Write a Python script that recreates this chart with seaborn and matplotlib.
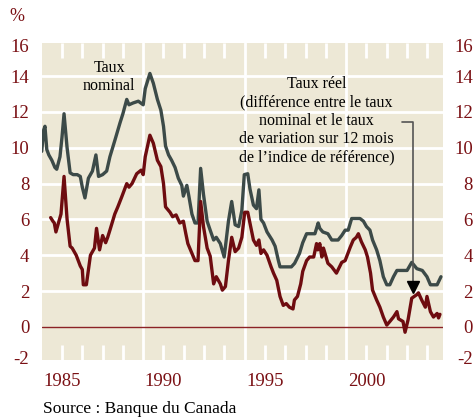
import matplotlib
matplotlib.use('Agg')
import matplotlib.pyplot as plt
import seaborn as sns
import numpy as np
import pandas as pd

# Nominal rate
nominal_years = [1984.00, 1984.10, 1984.16, 1984.25, 1984.35, 1984.50, 1984.65, 1984.74, 1984.90,
                 1985.00, 1985.10, 1985.25, 1985.40, 1985.55, 1985.75, 1985.90, 1986.00, 1986.13,
                 1986.30, 1986.50, 1986.67, 1986.80, 1987.00, 1987.20, 1987.36, 1987.60, 1987.86,
                 1988.00, 1988.19, 1988.30, 1988.50, 1988.76, 1989.00, 1989.10, 1989.33, 1989.50,
                 1989.70, 1989.87, 1990.00, 1990.10, 1990.25, 1990.40, 1990.57, 1990.73, 1990.90,
                 1990.98, 1991.15, 1991.25, 1991.40, 1991.55, 1991.70, 1991.83, 1991.97, 1992.15,
                 1992.30, 1992.47, 1992.60, 1992.80, 1992.99, 1993.20, 1993.36, 1993.53, 1993.70,
                 1993.86, 1993.98, 1994.15, 1994.26, 1994.43, 1994.58, 1994.70, 1994.80, 1994.93,
                 1995.10, 1995.35, 1995.50, 1995.66, 1995.74, 1996.30, 1996.46, 1996.70, 1996.86,
                 1997.05, 1997.46, 1997.62, 1997.70, 1997.85, 1998.10, 1998.29, 1998.60, 1998.78,
                 1998.95, 1999.10, 1999.27, 1999.68, 1999.85, 2000.00, 2000.17, 2000.30, 2000.50,
                 2000.66, 2000.83, 2001.00, 2001.15, 2001.33, 2001.50, 2002.00, 2002.23, 2002.48,
                 2002.75, 2002.98, 2003.15, 2003.48, 2003.67]
nominal_rate = [9.8, 11.0, 11.2, 9.9, 9.6, 9.3, 8.9, 8.8, 9.5,
                10.6, 11.9, 10.0, 8.6, 8.5, 8.5, 8.4, 7.8, 7.2,
                8.3, 8.7, 9.6, 8.4, 8.5, 8.7, 9.5, 10.4, 11.4,
                11.9, 12.7, 12.4, 12.5, 12.6, 12.4, 13.3, 14.15, 13.6,
                12.7, 12.1, 11.2, 10.1, 9.6, 9.3, 8.9, 8.3, 7.9,
                7.3, 7.9, 7.3, 6.3, 5.8, 5.8, 8.85, 7.4, 5.9,
                5.4, 4.85, 5.0, 4.65, 3.9, 5.9, 7.0, 5.7, 5.6,
                6.5, 8.5, 8.55, 7.7, 6.8, 6.6, 7.65, 6.0, 5.8,
                5.3, 4.85, 4.5, 3.7, 3.35, 3.35, 3.55, 4.1, 4.7,
                5.2, 5.2, 5.8, 5.5, 5.3, 5.2, 4.85, 4.85, 5.1,
                5.4, 5.4, 6.05, 6.05, 5.9, 5.6, 5.4, 4.85, 4.3,
                3.7, 2.8, 2.35, 2.35, 2.8, 3.15, 3.15, 3.6, 3.25,
                3.15, 2.8, 2.35, 2.35, 2.8]

real_years = [1984.44, 1984.55, 1984.62, 1984.70, 1984.85, 1984.95, 1985.10, 1985.25, 1985.40,
              1985.50, 1985.70, 1985.90, 1986.00, 1986.05, 1986.20, 1986.40, 1986.60, 1986.70,
              1986.85, 1987.00, 1987.15, 1987.25, 1987.36, 1987.60, 1987.75, 1987.94, 1988.19,
              1988.30, 1988.45, 1988.68, 1988.90, 1989.00, 1989.10, 1989.33, 1989.50, 1989.70,
              1989.87, 1990.00, 1990.10, 1990.25, 1990.32, 1990.45, 1990.62, 1990.80, 1990.98,
              1991.10, 1991.20, 1991.40, 1991.55, 1991.70, 1991.83, 1991.97, 1992.15, 1992.30,
              1992.47, 1992.60, 1992.80, 1992.90, 1993.05, 1993.20, 1993.36, 1993.53, 1993.70,
              1993.86, 1994.00, 1994.15, 1994.26, 1994.43, 1994.58, 1994.70, 1994.80, 1994.93,
              1995.10, 1995.30, 1995.42, 1995.58, 1995.74, 1995.90, 1996.05, 1996.20, 1996.38,
              1996.45, 1996.60, 1996.76, 1996.86, 1997.05, 1997.20, 1997.40, 1997.54, 1997.60,
              1997.70, 1997.80, 1997.88, 1998.10, 1998.29, 1998.52, 1998.78, 1998.95, 1999.20,
              1999.35, 1999.50, 1999.60, 1999.75, 1999.94, 2000.05, 2000.20, 2000.30, 2000.50,
              2000.66, 2000.83, 2001.00, 2001.15, 2001.33, 2001.50, 2001.58, 2001.80, 2001.90,
              2002.05, 2002.23, 2002.48, 2002.56, 2002.72, 2002.90, 2002.98, 2003.15, 2003.30,
              2003.48, 2003.55, 2003.62]
real_rate = [6.1, 5.9, 5.8, 5.3, 5.9, 6.3, 8.4, 6.0, 4.5,
             4.4, 4.0, 3.4, 3.2, 2.35, 2.35, 4.0, 4.4, 5.5,
             4.3, 5.1, 4.7, 5.0, 5.4, 6.3, 6.7, 7.25, 8.0,
             7.8, 8.0, 8.55, 8.75, 8.5, 9.5, 10.7, 10.25, 9.3,
             8.95, 8.0, 6.7, 6.5, 6.4, 6.15, 6.25, 5.8, 5.9,
             5.2, 4.65, 4.1, 3.7, 3.7, 7.0, 5.6, 4.4, 3.95,
             2.4, 2.8, 2.4, 2.05, 2.25, 3.7, 5.0, 4.2, 4.4,
             5.0, 6.4, 6.4, 5.8, 4.85, 4.55, 4.85, 4.1, 4.3,
             4.0, 3.35, 3.0, 2.6, 1.7, 1.2, 1.3, 1.1, 1.0,
             1.5, 1.7, 2.4, 3.1, 3.7, 3.9, 3.9, 4.65, 4.3,
             4.65, 3.9, 4.4, 3.55, 3.35, 3.0, 3.6, 3.7, 4.45,
             4.85, 5.0, 5.2, 4.75, 4.3, 3.9, 3.0, 2.05, 1.5,
             1.1, 0.55, 0.1, 0.3, 0.55, 0.85, 0.45, 0.3, -0.3,
             0.4, 1.6, 1.8, 1.9, 1.5, 1.1, 1.7, 0.85, 0.55,
             0.75, 0.5, 0.7]

year_labels = [1985, 1990, 1995, 2000]
year_ticks = [y for y in range(1985, 2004) if y not in (1989, 1994, 1999)]
section_lines = [1989, 1994, 1999]
grid_values = [2, 4, 6, 8, 10, 12, 14]
y_tick_labels = ['-2', '0', '2', '4', '6', '8', '10', '12', '14', '16']

BG = '#EDE8D6'
NOMINAL = '#3C4A48'
REAL = '#6E0C10'
LABEL_RED = '#7A1014'

sns.set_theme(style='white')
plt.rcParams['font.family'] = ['Liberation Serif', 'DejaVu Serif']

fig = plt.figure(figsize=(4.74, 4.19), dpi=100)
ax = fig.add_axes([0.088, 0.1408, 0.8466, 0.7566])
ax.set_facecolor(BG)

df = pd.concat([
    pd.DataFrame({'year': nominal_years, 'rate': nominal_rate, 'series': 'nominal'}),
    pd.DataFrame({'year': real_years, 'rate': real_rate, 'series': 'reel'}),
])

# white grid first so the curves sit on top
for g in grid_values:
    ax.axhline(g, color='white', lw=2.0, zorder=1)
for s in section_lines:
    ax.axvline(s, color='white', lw=2.0, zorder=1)
ax.axhline(0, color='#8B2226', lw=1.0, zorder=2)

sns.lineplot(data=df, x='year', y='rate', hue='series',
             palette={'nominal': NOMINAL, 'reel': REAL},
             estimator=None, sort=False, lw=2.4, legend=False, ax=ax, zorder=3)

ax.set_xlim(1984.0, 2003.77)
ax.set_ylim(-1.85, 15.85)
for sp in ax.spines.values():
    sp.set_visible(False)
ax.set_xlabel('')
ax.set_ylabel('')

# x ticks: white inward marks at top and bottom, labels every 5 years
ax.set_xticks(year_ticks, minor=True)
ax.set_xticks(year_labels)
ax.set_xticklabels([str(y) for y in year_labels])
ax.tick_params(axis='x', which='both', direction='in', top=True, bottom=True,
               length=11, width=2, color='white', pad=9,
               labelsize=13.5, labelcolor=LABEL_RED)

# y tick labels, the end ones sit a little inside the frame
y_tick_pos = [-1.7, 0, 2, 4, 6, 8, 10, 12, 14, 15.7]
ax.set_yticks(y_tick_pos)
ax.set_yticklabels(y_tick_labels)
ax.tick_params(axis='y', length=0, pad=9, labelsize=13.5, labelcolor=LABEL_RED)

ax2 = ax.twinx()
ax2.set_ylim(ax.get_ylim())
ax2.set_yticks(y_tick_pos)
ax2.set_yticklabels(y_tick_labels)
ax2.tick_params(axis='y', length=0, pad=21.5, labelsize=13.5, labelcolor=LABEL_RED)
for lbl in ax2.get_yticklabels():
    lbl.set_horizontalalignment('right')
for sp in ax2.spines.values():
    sp.set_visible(False)
ax2.grid(False)
ax.grid(False)

# annotations
ax.text(1987.32, 13.95, 'Taux\nnominal', ha='center', va='center',
        fontsize=11.5, color='black', linespacing=1.15, zorder=4)
ax.text(1997.55, 11.49,
        'Taux réel\n(différence entre le taux\nnominal et le taux\n'
        'de variation sur 12 mois\nde l\u2019indice de référence)',
        ha='center', va='center', multialignment='center',
        fontsize=11.5, color='black', linespacing=1.2, zorder=4)

ax.annotate('', xy=(2002.28, 2.45), xytext=(2001.73, 11.43),
            arrowprops=dict(arrowstyle='-', color='#555555', lw=1.2,
                            connectionstyle='angle,angleA=0,angleB=90,rad=0',
                            shrinkA=0, shrinkB=0), zorder=4)
ax.plot([2002.28], [2.25], marker='v', color='black', markersize=8, zorder=5)

fig.text(0.036, 0.96, '%', color=LABEL_RED, fontsize=13, ha='center', va='center')
fig.text(0.091, 0.014, 'Source : Banque du Canada', color='black', fontsize=12.5,
         ha='left', va='baseline')

fig.savefig('out.png', dpi=100, facecolor='white')
